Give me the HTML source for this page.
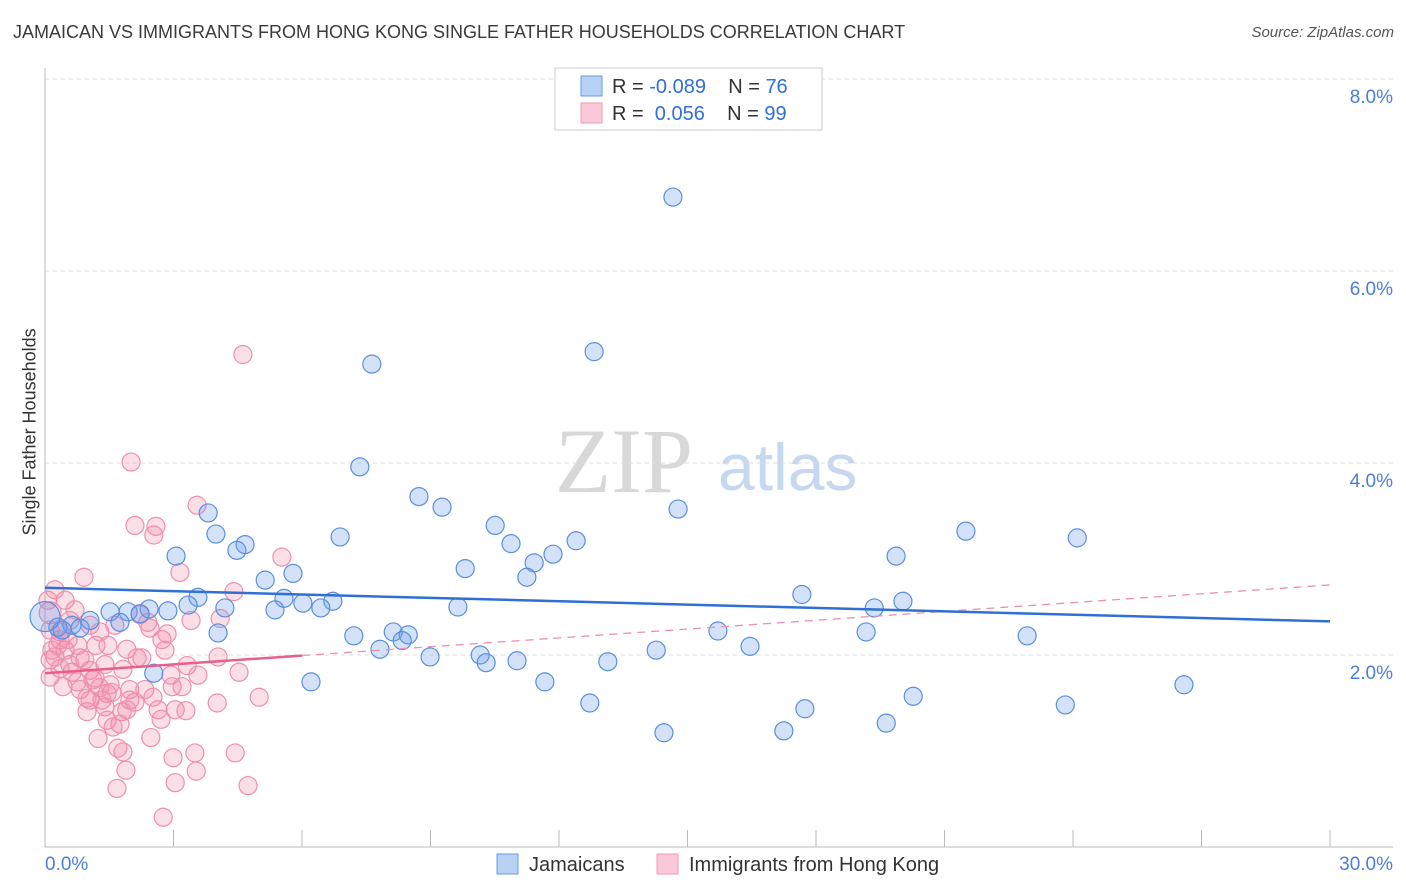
<!DOCTYPE html>
<html><head><meta charset="utf-8">
<style>
body{margin:0;background:#fff;font-family:"Liberation Sans",sans-serif;}
#wrap{position:relative;width:1406px;height:892px;overflow:hidden;}
.t{position:absolute;white-space:nowrap;}
</style></head>
<body>
<div id="wrap">
<div class="t" style="left:13px;top:22px;font-size:18px;color:#3a3a3a;">JAMAICAN VS IMMIGRANTS FROM HONG KONG SINGLE FATHER HOUSEHOLDS CORRELATION CHART</div>
<div class="t" style="right:12px;top:24px;font-size:15px;color:#555;font-style:italic;">Source: ZipAtlas.com</div>
<div class="t" style="left:-50px;top:445px;font-size:18px;color:#333;transform:rotate(-90deg);width:160px;text-align:center;">Single Father Households</div>
<svg id="plot" width="1406" height="892" style="position:absolute;left:0;top:0"></svg>
</div>
<script>
const blueX=[14.66,12.82,7.63,7.35,8.73,9.27,14.78,3.81,10.51,21.50,6.89,24.10,3.99,12.40,10.88,4.67,4.48,11.86,3.06,19.87,11.42,9.81,5.79,11.25,5.14,17.67,3.57,5.58,3.34,6.02,6.72,9.64,4.20,6.44,5.37,2.43,1.94,2.87,19.36,20.03,1.52,2.22,1.05,0.63,0.30,1.75,0.82,4.04,7.21,8.13,8.48,19.17,15.71,22.93,8.34,7.82,16.46,14.27,10.16,8.99,11.02,10.30,13.14,2.54,6.21,11.67,26.59,20.27,12.72,23.82,17.74,19.64,14.45,17.25,0.40,0.0];
const blueY=[6.77,5.16,5.03,3.96,3.65,3.54,3.52,3.48,3.35,3.29,3.23,3.22,3.26,3.19,3.16,3.15,3.09,3.05,3.03,3.03,2.96,2.90,2.85,2.81,2.78,2.63,2.60,2.59,2.52,2.54,2.56,2.50,2.49,2.49,2.47,2.48,2.45,2.46,2.49,2.56,2.45,2.43,2.36,2.31,2.29,2.34,2.28,2.23,2.20,2.24,2.21,2.24,2.25,2.20,2.15,2.06,2.09,2.05,2.00,1.98,1.94,1.92,1.93,1.81,1.72,1.72,1.69,1.57,1.50,1.48,1.44,1.29,1.19,1.21,2.26,2.40];
const pinkX=[2.01,4.62,3.55,2.10,2.59,2.54,0.91,3.15,4.41,5.53,3.41,4.09,0.12,2.40,2.45,2.85,2.73,2.80,1.19,1.47,1.91,2.15,2.26,4.04,3.32,1.82,1.40,0.82,0.23,0.12,0.35,0.63,1.05,2.94,3.57,4.53,2.97,3.20,0.12,0.42,0.75,0.82,1.12,1.28,0.98,1.45,1.56,1.05,1.33,2.52,2.10,1.98,4.02,5.00,0.98,1.40,1.80,1.91,2.64,3.04,3.29,2.71,1.45,1.75,1.59,1.24,2.47,1.70,1.82,2.99,3.50,4.44,1.89,3.53,1.68,3.04,4.74,2.76,0.12,0.35,0.58,0.47,0.07,0.23,0.70,1.05,1.28,1.63,2.22,0.77,0.47,0.30,0.93,0.58,1.52,1.17,1.98,2.33,0.35,0.16,0.54];
const pinkY=[4.01,5.13,3.56,3.35,3.34,3.25,2.81,2.86,2.66,3.02,2.36,2.38,2.44,2.34,2.28,2.22,2.16,2.05,2.10,2.10,2.06,1.97,1.97,1.98,1.89,1.85,1.90,1.97,1.98,1.95,1.86,1.82,1.84,1.79,1.79,1.82,1.67,1.67,1.77,1.67,1.72,1.64,1.74,1.66,1.55,1.60,1.61,1.53,1.53,1.56,1.51,1.53,1.50,1.56,1.41,1.46,1.41,1.43,1.43,1.43,1.42,1.33,1.32,1.28,1.25,1.13,1.14,1.03,0.99,0.93,0.98,0.98,0.80,0.79,0.61,0.67,0.64,0.31,2.26,2.16,2.36,2.57,2.57,2.68,2.47,2.31,2.24,2.31,2.42,2.10,2.05,2.10,1.95,1.90,1.69,1.76,1.64,1.64,2.24,2.05,2.16];
const blueTrend=[2.70,2.35];
const pinkTrend=[1.81,2.73];
const yTicks=[2,4,6,8];
const yTickLabels=["2.0%","4.0%","6.0%","8.0%"];

const NS="http://www.w3.org/2000/svg";
const svg=document.getElementById('plot');
const X0=45,X1=1330,Y0=847,PY=96;
const sx=v=>X0+(X1-X0)*v/30;
const sy=v=>Y0-PY*v;
function mk(tag,attrs,parent){const e=document.createElementNS(NS,tag);for(const k in attrs)e.setAttribute(k,attrs[k]);(parent||svg).appendChild(e);return e;}

// watermark
let wm=mk('text',{x:555,y:492,'font-size':92,fill:'#d8d8d8','font-family':'Liberation Serif,serif'});


wm.textContent='ZIP';
let wm2=mk('text',{x:718,y:490,'font-size':66,fill:'#c6d8f0','font-family':'Liberation Sans,sans-serif'});


wm2.textContent='atlas';

yTicks.forEach((v,i)=>{
  const g=mk('line',{x1:X0,x2:1393,y1:sy(v),y2:sy(v),stroke:'#dedede','stroke-dasharray':'4,4'});
  
  
  const t=mk('text',{x:1393,y:sy(v)+24,'text-anchor':'end','font-size':19,fill:'#4a7fd6','font-family':'Liberation Sans,sans-serif'});
  
  
  t.textContent=yTickLabels[i];
});
let ax=mk('line',{x1:X0,x2:X0,y1:68,y2:Y0,stroke:'#bbb'});


let bx=mk('line',{x1:X0,x2:1393,y1:Y0,y2:Y0,stroke:'#bbb'});


for(let k=3;k<=30;k+=3){
  const tk=mk('line',{x1:sx(k),x2:sx(k),y1:Y0-17,y2:Y0,stroke:'#bbb'});
  
  
}
[[0,'0.0%','start',45],[30,'30.0%','end',1393]].forEach(a=>{
  const t=mk('text',{x:a[3],y:870,'text-anchor':a[2],'font-size':19,fill:'#4a7fd6','font-family':'Liberation Sans,sans-serif'});
  
  
  t.textContent=a[1];
});

pinkX.forEach((x,i)=>{
  const c=mk('circle',{cx:sx(x),cy:sy(pinkY[i]),r:i==12?11:9,fill:'rgba(242,140,170,0.28)',stroke:'#ee8fae','stroke-width':1.2});
  
  
});
blueX.forEach((x,i)=>{
  const c=mk('circle',{cx:sx(x),cy:sy(blueY[i]),r:i==blueX.length-1?15:9,fill:'rgba(110,160,235,0.3)',stroke:'#5a8fdd','stroke-width':1.2});
  
  
});

const pAt=x=>pinkTrend[0]+(pinkTrend[1]-pinkTrend[0])*x/30;
let pd=mk('line',{x1:sx(6),y1:sy(pAt(6)),x2:sx(30),y2:sy(pAt(30)),stroke:'#ee8fae','stroke-width':1.3,'stroke-dasharray':'8,6'});


let ps=mk('line',{x1:sx(0),y1:sy(pAt(0)),x2:sx(6),y2:sy(pAt(6)),stroke:'#e8608a','stroke-width':2.5});


let bl=mk('line',{x1:sx(0),y1:sy(blueTrend[0]),x2:sx(30),y2:sy(blueTrend[1]),stroke:'#2f6fd6','stroke-width':2.5});



// top legend
let lg=mk('rect',{x:555,y:68,width:267,height:62,fill:'#fff',stroke:'#ccc'});


[[0,'#b8d2f5','#6a9be0','-0.089','76'],[1,'#fac8d8','#ef9ab6',' 0.056','99']].forEach(r=>{
  const y=76+r[0]*27;
  const s=mk('rect',{x:581,y:y,width:21,height:20,fill:r[1],stroke:r[2]});
  
  
  const t=mk('text',{x:612,y:y+17,'font-size':20,fill:'#333','font-family':'Liberation Sans,sans-serif','xml:space':'preserve'});
  
  
  t.innerHTML='R = <tspan fill="#2f6fd6">'+(r[0]?'&#160;0.056':'-0.089')+'</tspan>&#160;&#160;&#160;&#160;N = <tspan fill="#2f6fd6">'+r[4]+'</tspan>';
});

// bottom legend
[[497,'#b8d2f5','#6a9be0','Jamaicans','legend-jamaicans'],[657,'#fac8d8','#ef9ab6','Immigrants from Hong Kong','legend-hong-kong']].forEach(r=>{
  const s=mk('rect',{x:r[0],y:854,width:21,height:20,fill:r[1],stroke:r[2]});
  
  
  const t=mk('text',{x:r[0]+32,y:871,'font-size':20,fill:'#333','font-family':'Liberation Sans,sans-serif'});
  
  
  t.textContent=r[3];
});
</script>
</body></html>
